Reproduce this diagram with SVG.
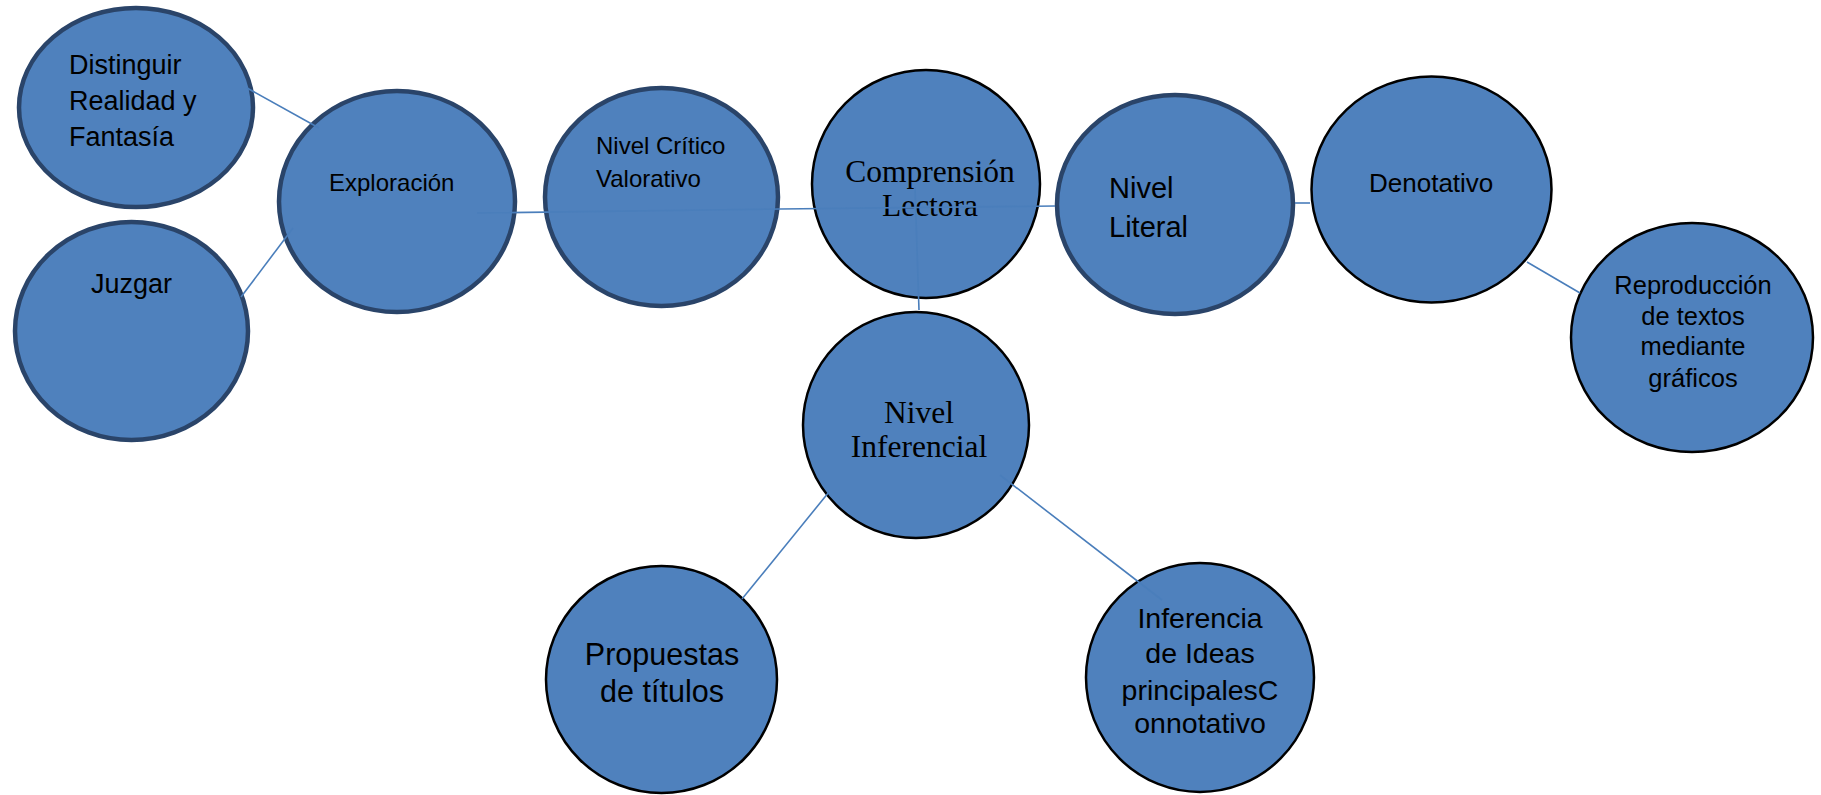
<svg xmlns="http://www.w3.org/2000/svg" width="1821" height="795" viewBox="0 0 1821 795">
<style>
.n{fill:#4f81bd}
.thick{stroke:#2a4469;stroke-width:4.5}
.thin{stroke:#000;stroke-width:2.5}
.s{font-family:"Liberation Sans",Arial,sans-serif;fill:#000}
.r{font-family:"Liberation Serif","Times New Roman",serif;fill:#000}
.c{text-anchor:middle}
.e{stroke:#4a7ebb;stroke-width:1.6;fill:none}
</style>
<rect width="1821" height="795" fill="#fff"/>
<g id="n-distinguir"><ellipse class="n thick" cx="136" cy="107.5" rx="117" ry="99.5"/>
<text class="s" font-size="27"><tspan x="69" y="74">Distinguir</tspan><tspan x="69" y="110">Realidad y</tspan><tspan x="69" y="146">Fantasía</tspan></text></g>
<g id="n-juzgar"><ellipse class="n thick" cx="131.5" cy="331" rx="116.5" ry="109"/>
<text class="s" font-size="27" x="91" y="293">Juzgar</text></g>
<g id="n-exploracion"><ellipse class="n thick" cx="397" cy="201.5" rx="118" ry="110.5"/>
<text class="s" font-size="24" x="329" y="191">Exploración</text></g>
<g id="n-critico"><ellipse class="n thick" cx="661.5" cy="197" rx="116.5" ry="109"/>
<text class="s" font-size="24"><tspan x="596" y="154">Nivel Crítico</tspan><tspan x="596" y="187">Valorativo</tspan></text></g>
<g id="n-comprension"><ellipse class="n thin" cx="926" cy="184" rx="114" ry="114"/>
<text class="r c" font-size="31.5"><tspan x="930" y="182">Comprensión</tspan><tspan x="930" y="216">Lectora</tspan></text></g>
<g id="n-literal"><ellipse class="n thick" cx="1175" cy="204.5" rx="118" ry="109.5"/>
<text class="s" font-size="29"><tspan x="1109" y="198">Nivel</tspan><tspan x="1109" y="237">Literal</tspan></text></g>
<g id="n-denotativo"><ellipse class="n thin" cx="1431.5" cy="189.5" rx="120" ry="113"/>
<text class="s" font-size="26" x="1369" y="192">Denotativo</text></g>
<g id="n-reproduccion"><ellipse class="n thin" cx="1692" cy="337.5" rx="121" ry="114.5"/>
<text class="s c" font-size="25.5"><tspan x="1693" y="294">Reproducción</tspan><tspan x="1693" y="325">de textos</tspan><tspan x="1693" y="355">mediante</tspan><tspan x="1693" y="387">gráficos</tspan></text></g>
<g id="n-inferencial"><ellipse class="n thin" cx="916" cy="425" rx="113" ry="113"/>
<text class="r c" font-size="31.5"><tspan x="919" y="423">Nivel</tspan><tspan x="919" y="457">Inferencial</tspan></text></g>
<g id="n-propuestas"><ellipse class="n thin" cx="661.5" cy="679.5" rx="115.5" ry="113.5"/>
<text class="s c" font-size="30.5"><tspan x="662" y="665">Propuestas</tspan><tspan x="662" y="702">de títulos</tspan></text></g>
<g id="n-inferencia"><ellipse class="n thin" cx="1200" cy="677.5" rx="114" ry="114.5"/>
<text class="s c" font-size="28.5"><tspan x="1200" y="628">Inferencia</tspan><tspan x="1200" y="663">de Ideas</tspan><tspan x="1200" y="700">principalesC</tspan><tspan x="1200" y="733">onnotativo</tspan></text></g>
<g id="connectors">
<line class="e" x1="247" y1="88" x2="319" y2="128"/>
<line class="e" x1="241" y1="297" x2="293" y2="228"/>
<polyline class="e" points="477,213 780,209 1055,206"/>
<line class="e" x1="915" y1="187" x2="919" y2="310"/>
<line class="e" x1="1295" y1="203" x2="1310" y2="203"/>
<line class="e" x1="1527" y1="262" x2="1580" y2="293"/>
<line class="e" x1="829" y1="492" x2="742" y2="599"/>
<line class="e" x1="1000" y1="475" x2="1162" y2="600"/>
</g>
</svg>
